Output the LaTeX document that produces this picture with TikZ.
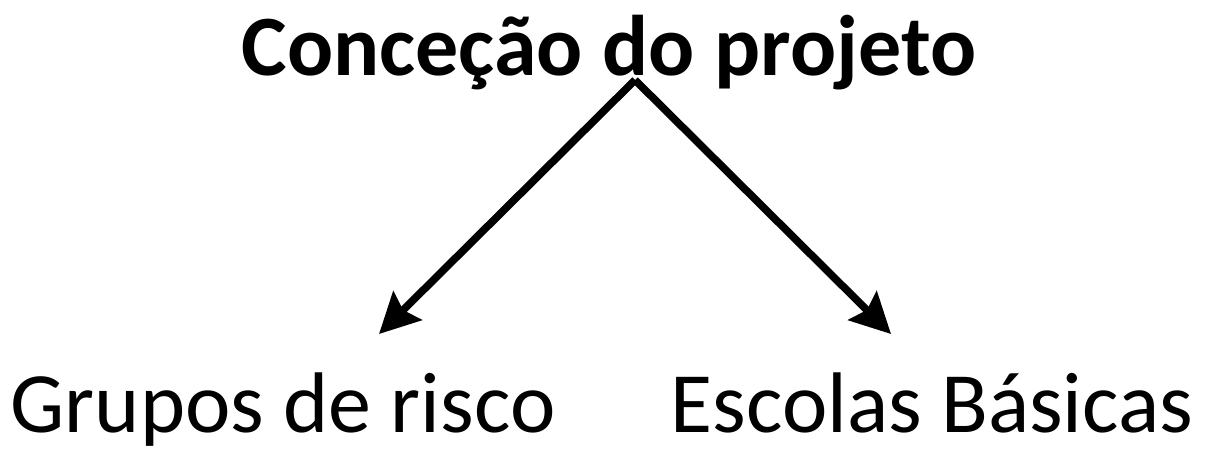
\documentclass[tikz,border=0pt]{standalone}
\usepackage{fontspec}
\setmainfont{Carlito}
\usetikzlibrary{arrows.meta}

\begin{document}
\begin{tikzpicture}[x=0.5pt,y=-0.5pt,
	texto/.style={font=\fontsize{43}{50}\selectfont, anchor=base, inner sep=0pt},
	seta/.style={-{Stealth[length=20pt,width=20pt,inset=3pt]}, line width=3.8pt}]
\useasboundingbox (0,0) rectangle (1213,452);

\node(concecao)	[texto, font=\fontsize{43}{50}\selectfont\bfseries] at (609,75) {Conceção do projeto};
\node(grupos)	[texto] at (283,432) {Grupos de risco};
\node(escolas)	[texto] at (932,432) {Escolas Básicas};

\coordinate(topo)	at (635,80);
\coordinate(ponta_g)	at (379,334);
\coordinate(ponta_e)	at (891,334);

\draw [seta] (topo) -- (ponta_g);
\draw [seta] (topo) -- (ponta_e);

\end{tikzpicture}
\end{document}
